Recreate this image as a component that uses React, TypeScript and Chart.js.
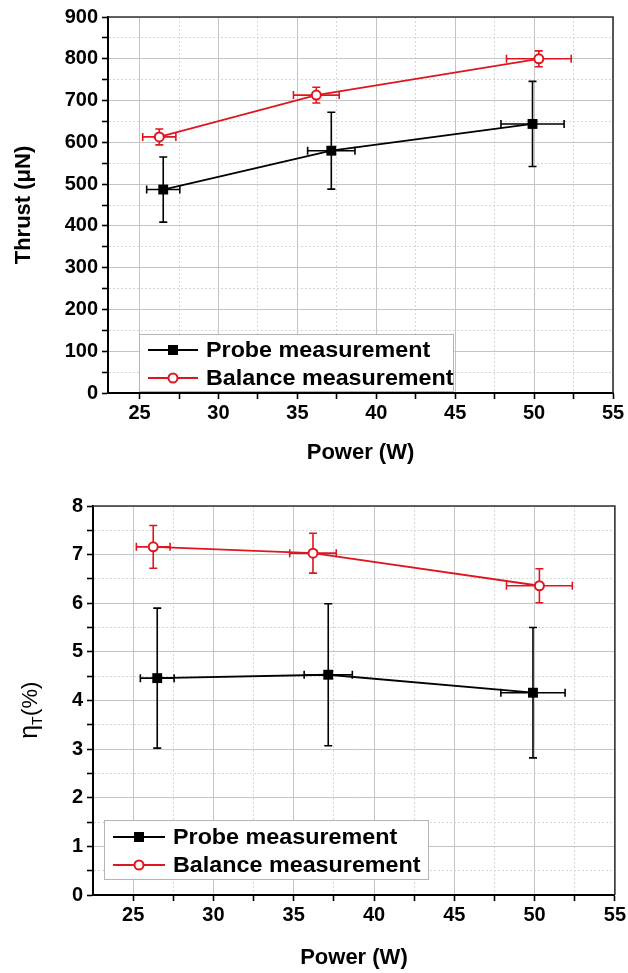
import React, { useEffect, useRef } from 'react';
import { Chart, registerables } from 'chart.js';

Chart.register(...registerables);

const FONT = "'Liberation Sans', Arial, Helvetica, sans-serif";
const RED = '#e0161f';
const BLACK = '#000000';

// ---- data ----
const probePower = [26.5, 37.15, 49.9];
const probePowerErr = [1.05, 1.5, 2.0];
const balancePower = [26.25, 36.2, 50.3];
const balancePowerErr = [1.05, 1.45, 2.05];

const probeThrust = [487, 580, 644];
const probeThrustErr = [78, 92, 102];
const balanceThrust = [613, 713, 800];
const balanceThrustErr = [19, 19, 19];

const probeEff = [4.46, 4.53, 4.16];
const probeEffErr = [1.44, 1.46, 1.34];
const balanceEff = [7.16, 7.03, 6.36];
const balanceEffErr = [0.44, 0.41, 0.35];

const powerTicks = [25, 27.5, 30, 32.5, 35, 37.5, 40, 42.5, 45, 47.5, 50, 52.5, 55];
const thrustTicks = [0, 50, 100, 150, 200, 250, 300, 350, 400, 450, 500, 550, 600, 650, 700, 750, 800, 850, 900];
const effTicks = [0, 0.5, 1, 1.5, 2, 2.5, 3, 3.5, 4, 4.5, 5, 5.5, 6, 6.5, 7, 7.5, 8];

const LABEL_PROBE = 'Probe measurement';
const LABEL_BALANCE = 'Balance measurement';

// ---- plugins ----
const errorBars = {
  id: 'errorBars',
  beforeDatasetsDraw(chart: any) {
    const { ctx } = chart;
    const xs = chart.scales.x;
    const ys = chart.scales.y;
    const cap = 4;
    chart.data.datasets.forEach((ds: any) => {
      ctx.save();
      ctx.strokeStyle = ds.borderColor;
      ctx.lineWidth = 1.6;
      ds.data.forEach((p: any, i: number) => {
        const px = xs.getPixelForValue(p.x);
        const py = ys.getPixelForValue(p.y);
        const x0 = xs.getPixelForValue(p.x - ds.xErr[i]);
        const x1 = xs.getPixelForValue(p.x + ds.xErr[i]);
        const y0 = ys.getPixelForValue(p.y - ds.yErr[i]);
        const y1 = ys.getPixelForValue(p.y + ds.yErr[i]);
        ctx.beginPath();
        ctx.moveTo(x0, py); ctx.lineTo(x1, py);
        ctx.moveTo(x0, py - cap); ctx.lineTo(x0, py + cap);
        ctx.moveTo(x1, py - cap); ctx.lineTo(x1, py + cap);
        ctx.moveTo(px, y0); ctx.lineTo(px, y1);
        ctx.moveTo(px - cap, y0); ctx.lineTo(px + cap, y0);
        ctx.moveTo(px - cap, y1); ctx.lineTo(px + cap, y1);
        ctx.stroke();
      });
      ctx.restore();
    });
  },
};

const frame = {
  id: 'frame',
  beforeDatasetsDraw(chart: any) {
    const { ctx, chartArea: a } = chart;
    ctx.save();
    ctx.strokeStyle = '#333';
    ctx.lineWidth = 1.6;
    ctx.beginPath();
    ctx.moveTo(a.left, a.top);
    ctx.lineTo(a.right, a.top);
    ctx.lineTo(a.right, a.bottom);
    ctx.stroke();
    ctx.restore();
  },
};

const boxLegend = {
  id: 'boxLegend',
  afterDraw(chart: any, _args: any, o: any) {
    if (!o || o.left === undefined) return;
    const { ctx, chartArea: a } = chart;
    const bx = a.left + o.left;
    const by = a.bottom + o.top;
    ctx.save();
    ctx.fillStyle = '#ffffff';
    ctx.fillRect(bx, by, o.width, o.height);
    ctx.strokeStyle = '#b4b4b4';
    ctx.lineWidth = 1;
    ctx.strokeRect(bx + 0.5, by + 0.5, o.width, o.height);
    chart.data.datasets.forEach((ds: any, i: number) => {
      const ry = a.bottom + o.rows[i];
      const l0 = a.left + o.lineFrom;
      const l1 = a.left + o.lineTo;
      const mx = (l0 + l1) / 2;
      ctx.strokeStyle = ds.borderColor;
      ctx.lineWidth = 1.8;
      ctx.beginPath();
      ctx.moveTo(l0, ry); ctx.lineTo(l1, ry);
      ctx.stroke();
      if (ds.pointStyle === 'rect') {
        ctx.fillStyle = ds.borderColor;
        ctx.fillRect(mx - 5, ry - 5, 10, 10);
      } else {
        ctx.beginPath();
        ctx.arc(mx, ry, 4.5, 0, Math.PI * 2);
        ctx.fillStyle = '#fff';
        ctx.fill();
        ctx.lineWidth = 2;
        ctx.stroke();
      }
      ctx.fillStyle = '#000';
      ctx.font = `bold ${o.fontSize}px ${FONT}`;
      ctx.textBaseline = 'middle';
      ctx.textAlign = 'left';
      ctx.save();
      ctx.translate(a.left + o.textX, ry + 1);
      ctx.scale(1.06, 1);
      ctx.fillText(ds.label, 0, 0);
      ctx.restore();
    });
    ctx.restore();
  },
};

const etaTitle = {
  id: 'etaTitle',
  afterDraw(chart: any, _args: any, o: any) {
    if (!o || !o.show) return;
    const { ctx, chartArea: a } = chart;
    ctx.save();
    ctx.translate(o.x, (a.top + a.bottom) / 2 + o.dy);
    ctx.rotate(-Math.PI / 2);
    ctx.fillStyle = '#000';
    ctx.textBaseline = 'alphabetic';
    ctx.textAlign = 'left';
    const big = `25px ${FONT}`;
    const small = `14px ${FONT}`;
    const par = `22px ${FONT}`;
    ctx.font = big; const w1 = ctx.measureText('η').width;
    ctx.font = small; const w2 = ctx.measureText('T').width;
    ctx.font = par; const w3 = ctx.measureText('(%)').width;
    let cx = -(w1 + w2 + w3) / 2;
    ctx.font = big; ctx.fillText('η', cx, 0); cx += w1;
    ctx.font = small; ctx.fillText('T', cx, 5); cx += w2 + 0.5;
    ctx.font = par; ctx.fillText('(%)', cx, 0);
    ctx.restore();
  },
};

// ---- config builder ----
function axisGrid(isMajor: (v: number) => boolean) {
  return {
    grid: {
      color: (c: any) => (c.tick && isMajor(c.tick.value) ? '#c4c4c4' : '#d6d6d6'),
      lineWidth: 1,
      tickColor: '#000',
      tickWidth: 1.6,
      tickLength: 6,
      drawTicks: true,
    },
    border: {
      display: true,
      color: '#000',
      width: 2,
      dash: (c: any) => (c.tick && !isMajor(c.tick.value) ? [2, 2] : []),
    },
  };
}

function makeConfig(p: any) {
  const xMajor = (v: number) => v % 5 === 0;
  const datasets = [
    {
      label: LABEL_PROBE,
      data: probePower.map((x, i) => ({ x, y: p.probeY[i] })),
      xErr: probePowerErr,
      yErr: p.probeYErr,
      borderColor: BLACK,
      backgroundColor: BLACK,
      borderWidth: 1.8,
      showLine: true,
      pointStyle: 'rect',
      pointRadius: 7,
      pointBorderWidth: 0,
      pointBackgroundColor: BLACK,
    },
    {
      label: LABEL_BALANCE,
      data: balancePower.map((x, i) => ({ x, y: p.balY[i] })),
      xErr: balancePowerErr,
      yErr: p.balYErr,
      borderColor: RED,
      backgroundColor: RED,
      borderWidth: 1.8,
      showLine: true,
      pointStyle: 'circle',
      pointRadius: 4.5,
      pointBorderWidth: 2,
      pointBorderColor: RED,
      pointBackgroundColor: '#ffffff',
    },
  ];
  return {
    type: 'scatter',
    data: { datasets },
    plugins: [errorBars, frame, boxLegend, etaTitle],
    options: {
      responsive: false,
      animation: false,
      devicePixelRatio: 1,
      layout: { padding: { top: p.padTop, right: p.padRight, left: 0, bottom: 0 } },
      plugins: {
        legend: { display: false },
        tooltip: { enabled: false },
        boxLegend: p.legend,
        etaTitle: p.eta,
      },
      scales: {
        x: {
          type: 'linear',
          min: p.xMin,
          max: 55,
          afterBuildTicks: (s: any) => { s.ticks = powerTicks.map((v) => ({ value: v })); },
          afterFit: (s: any) => { s.height = p.xHeight; },
          ticks: {
            autoSkip: false,
            maxRotation: 0,
            color: '#000',
            padding: 2,
            font: { family: FONT, size: 20, weight: 'bold' },
            callback: (v: number) => (xMajor(v) ? String(v) : ''),
          },
          ...axisGrid(xMajor),
          title: {
            display: true,
            text: 'Power (W)',
            color: '#000',
            font: { family: FONT, size: 22, weight: 'bold' },
            padding: { top: 0, bottom: p.xTitlePad },
          },
        },
        y: {
          type: 'linear',
          min: p.yMin,
          max: p.yMax,
          afterBuildTicks: (s: any) => { s.ticks = p.yTicks.map((v: number) => ({ value: v })); },
          afterFit: (s: any) => { s.width = p.yWidth; },
          ticks: {
            autoSkip: false,
            color: '#000',
            padding: 4,
            font: { family: FONT, size: 20, weight: 'bold' },
            callback: (v: number) => (p.yMajor(v) ? String(v) : ''),
          },
          ...axisGrid(p.yMajor),
          title: {
            display: !!p.yTitle,
            text: p.yTitle || '',
            color: '#000',
            font: { family: FONT, size: 22, weight: 'bold' },
            padding: { top: p.yTitlePad, bottom: 0 },
          },
        },
      },
    },
  };
}

export default function App() {
  const topRef = useRef<HTMLCanvasElement | null>(null);
  const botRef = useRef<HTMLCanvasElement | null>(null);

  useEffect(() => {
    Chart.defaults.font.family = FONT;
    Chart.defaults.color = '#000';
    const top = new Chart(topRef.current as any, makeConfig({
      probeY: probeThrust,
      probeYErr: probeThrustErr,
      balY: balanceThrust,
      balYErr: balanceThrustErr,
      yTicks: thrustTicks,
      yMajor: (v: number) => v % 100 === 0,
      xMin: 23,
      yMin: 0,
      yMax: 900,
      padTop: 17,
      padRight: 15,
      yWidth: 108,
      xHeight: 82,
      xTitlePad: 9,
      yTitle: 'Thrust (μN)',
      yTitlePad: 11,
      legend: { left: 31, top: -59, width: 314, height: 57, rows: [-43, -15], lineFrom: 40, lineTo: 90, textX: 98, fontSize: 22 },
      eta: { show: false },
    }) as any);
    const bot = new Chart(botRef.current as any, makeConfig({
      probeY: probeEff,
      probeYErr: probeEffErr,
      balY: balanceEff,
      balYErr: balanceEffErr,
      yTicks: effTicks,
      yMajor: (v: number) => Number.isInteger(v),
      xMin: 22.5,
      yMin: 0,
      yMax: 8,
      padTop: 31,
      padRight: 12,
      yWidth: 93,
      xHeight: 78,
      xTitlePad: 2,
      yTitle: '',
      yTitlePad: 0,
      legend: { left: 11, top: -75, width: 324, height: 59, rows: [-58, -30], lineFrom: 20, lineTo: 72, textX: 80, fontSize: 22 },
      eta: { show: true, x: 37, dy: 10 },
    }) as any);
    return () => {
      top.destroy();
      bot.destroy();
    };
  }, []);

  return (
    <div style={{ position: 'absolute', left: 0, top: 0, width: 628, height: 973, background: '#fff' }}>
      <canvas ref={topRef} width={628} height={475} style={{ display: 'block', width: 628, height: 475 }} />
      <canvas ref={botRef} width={628} height={498} style={{ display: 'block', width: 628, height: 498 }} />
    </div>
  );
}
